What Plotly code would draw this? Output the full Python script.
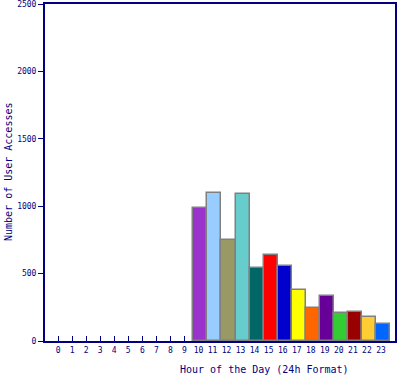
import plotly.graph_objects as go

hours = list(range(24))
accesses = [0, 0, 0, 0, 0, 0, 0, 0, 0, 0,
            984, 1096, 747, 1088, 539, 636, 554, 376, 243, 332, 205, 213, 178, 124]
colors = ["#FFFFFF"] * 10 + ["#9933CC", "#99CCFF", "#999966", "#66CCCC", "#006666",
                             "#FF0000", "#0000CC", "#FFFF00", "#FF6600", "#660099",
                             "#33CC33", "#990000", "#FFCC33", "#0066FF"]
tick_labels = [str(h) for h in hours]
y_ticks = [0, 500, 1000, 1500, 2000, 2500]

navy = "#000080"
font = "DejaVu Sans Mono"

line_widths = [1.5 if v > 0 else 0 for v in accesses]

fig = go.Figure(go.Bar(
    x=hours, y=accesses,
    marker=dict(color=colors, line=dict(color="#808080", width=line_widths)),
    width=1.0, offset=-0.36,
))

fig.update_layout(
    width=400, height=375,
    margin=dict(l=45, r=5, t=4, b=34, autoexpand=False),
    paper_bgcolor="white", plot_bgcolor="white",
    showlegend=False,
    bargap=0,
    font=dict(family=font, color=navy, size=8),
    annotations=[
        dict(text="Hour of the Day (24h Format)", xref="paper", yref="paper",
             x=(264 - 45) / 350, y=0, yshift=-28, xanchor="center", yanchor="middle",
             showarrow=False, font=dict(family=font, size=10, color=navy)),
        dict(text="Number of User Accesses", xref="paper", yref="paper",
             x=0, xshift=-37, y=(341 - 172) / 337, xanchor="center", yanchor="middle",
             textangle=-90, showarrow=False, font=dict(family=font, size=10, color=navy)),
    ],
)
fig.update_xaxes(
    range=[-0.93, 24.0], automargin=False,
    tickmode="array", tickvals=hours, ticktext=tick_labels,
    ticks="inside", ticklen=5, tickwidth=1, tickcolor=navy,
    showline=True, linecolor=navy, linewidth=2, mirror=True,
    showgrid=False, zeroline=False,
    layer="below traces", ticklabeloverflow="allow",
    tickfont=dict(family=font, size=8, color=navy),
)
fig.update_yaxes(
    range=[0, 2500], automargin=False,
    tickmode="array", tickvals=y_ticks, ticktext=[str(v) for v in y_ticks],
    ticks="outside", ticklen=5, tickwidth=1, tickcolor=navy,
    showline=True, linecolor=navy, linewidth=2, mirror=True,
    showgrid=False, zeroline=False, ticklabeloverflow="allow",
    tickfont=dict(family=font, size=8, color=navy),
)

fig.write_html("out.html", config={"displayModeBar": False},
               post_script="document.body.style.margin='0';document.body.style.overflow='hidden';")
